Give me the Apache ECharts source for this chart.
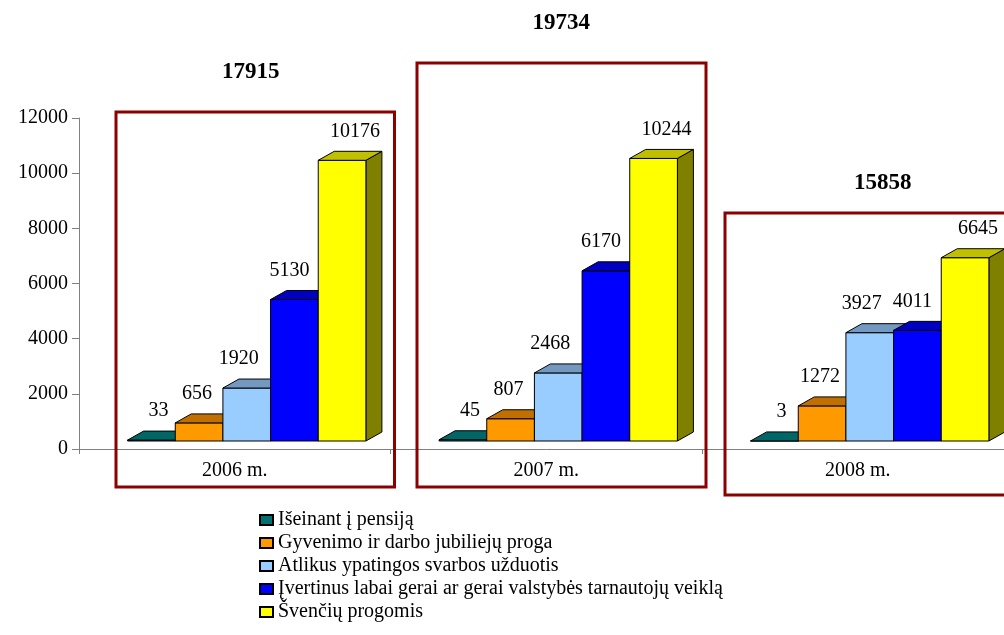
<!DOCTYPE html>
<html>
<head>
<meta charset="utf-8">
<script src="https://cdn.jsdelivr.net/npm/echarts@6.0.0/dist/echarts.min.js"></script>
<style>
    html, body { margin: 0; padding: 0; background: #fff; overflow: hidden; }
    /* the original chart runs a little past the right edge of the picture */
    #bar-chart { width: 1014px; height: 635px; }
</style>
</head>
<body>
<div id="bar-chart"></div>
<script>
const years = ['2006 m.', '2007 m.', '2008 m.'];
const seriesNames = [
    'Išeinant į pensiją',
    'Gyvenimo ir darbo jubiliejų proga',
    'Atlikus ypatingos svarbos užduotis',
    'Įvertinus labai gerai ar gerai valstybės tarnautojų veiklą',
    'Švenčių progomis'
];
const pensija = [33, 45, 3];
const jubiliejai = [656, 807, 1272];
const uzduotys = [1920, 2468, 3927];
const veikla = [5130, 6170, 4011];
const sventes = [10176, 10244, 6645];
const yTicks = [0, 2000, 4000, 6000, 8000, 10000, 12000];

const seriesValues = [pensija, jubiliejai, uzduotys, veikla, sventes];
const totals = years.map((y, i) => seriesValues.reduce((s, arr) => s + arr[i], 0));

const font = '"Liberation Serif", "Times New Roman", serif';
// front / top / side colours of the 3d columns
const colors = [
    { front: '#008080', top: '#006666', side: '#004040', legend: '#007070' },
    { front: '#ff9900', top: '#c07000', side: '#804c00', legend: '#ff9900' },
    { front: '#99ccff', top: '#7399c0', side: '#4d6680', legend: '#99ccff' },
    { front: '#0000ff', top: '#0000c0', side: '#000080', legend: '#0000ff' },
    { front: '#ffff00', top: '#c0c000', side: '#808000', legend: '#ffff00' }
];
const labelDx = [7, -2, -8, -5, 13];
const depthX = 16;
const depthY = -9;
const floorX = 12;
const floorY = -8;

// hand drawn frames around each year (pixel offsets from the band / zero line)
const frames = [
    { l: 37, r: 4, h: 337, b: 38, tx: 16, ty: -40 },
    { l: 26.5, r: 4, h: 386, b: 38, tx: 15, ty: -40 },
    { l: 23, r: 4, h: 236, b: 46, tx: 25, ty: -30 }
];

function barRenderer(idx) {
    return function (params, api) {
        const cat = api.value(0);
        const val = api.value(1);
        const base = api.coord([cat, 0]);
        const top = api.coord([cat, val]);
        const band = api.size([1, 0])[0];
        const w = band * 0.153;
        const x0 = base[0] + floorX + (idx - 2.5) * w;
        const yb = base[1] + floorY;
        const yt = top[1] + floorY;
        const c = colors[idx];
        const line = { stroke: '#000', lineWidth: 1 };
        return {
            type: 'group',
            children: [
                {
                    type: 'polygon',
                    shape: { points: [[x0 + w, yt], [x0 + w + depthX, yt + depthY], [x0 + w + depthX, yb + depthY], [x0 + w, yb]] },
                    style: Object.assign({ fill: c.side }, line)
                },
                {
                    type: 'rect',
                    shape: { x: x0, y: yt, width: w, height: yb - yt },
                    style: Object.assign({ fill: c.front }, line)
                },
                {
                    type: 'polygon',
                    shape: { points: [[x0, yt], [x0 + w, yt], [x0 + w + depthX, yt + depthY], [x0 + depthX, yt + depthY]] },
                    style: Object.assign({ fill: c.top }, line)
                },
                {
                    type: 'text',
                    style: {
                        text: String(val),
                        x: x0 + w / 2 + labelDx[idx],
                        y: yt + depthY - 20,
                        align: 'center',
                        verticalAlign: 'middle',
                        fill: '#000',
                        font: '20px ' + font
                    }
                }
            ]
        };
    };
}

function frameRenderer(params, api) {
    const cat = api.value(0);
    const base = api.coord([cat, 0]);
    const band = api.size([1, 0])[0];
    const f = frames[cat];
    const left = base[0] - band / 2 + f.l;
    const right = base[0] + band / 2 + f.r;
    const top = base[1] - f.h;
    const bottom = base[1] + f.b;
    return {
        type: 'group',
        children: [
            {
                type: 'rect',
                shape: { x: left, y: top, width: right - left, height: bottom - top },
                style: { fill: 'none', stroke: '#8b0000', lineWidth: 3 }
            },
            {
                type: 'text',
                style: {
                    text: String(api.value(1)),
                    x: base[0] + f.tx,
                    y: top + f.ty,
                    align: 'center',
                    verticalAlign: 'middle',
                    fill: '#000',
                    font: 'bold 23px ' + font
                }
            }
        ]
    };
}

const echart = echarts.init(document.getElementById('bar-chart'));

const series = seriesValues.map((arr, i) => ({
    name: seriesNames[i],
    type: 'custom',
    renderItem: barRenderer(i),
    itemStyle: { color: colors[i].legend, borderColor: '#000', borderWidth: 1 },
    encode: { x: 0, y: 1 },
    data: arr.map((v, k) => [k, v]),
    z: 3
}));
series.push({
    name: 'frames',
    type: 'custom',
    renderItem: frameRenderer,
    encode: { x: 0, y: 1 },
    data: totals.map((t, k) => [k, t]),
    silent: true,
    z: 5
});

const option = {
    backgroundColor: '#fff',
    animation: false,
    textStyle: { fontFamily: font },
    grid: { left: 79, right: 0.5, top: 118, bottom: 186, containLabel: false },
    legend: {
        orient: 'vertical',
        left: 254,
        top: 505,
        icon: 'rect',
        itemWidth: 13,
        itemHeight: 10,
        itemGap: 3,
        data: seriesNames,
        textStyle: { fontFamily: font, fontSize: 20, color: '#000', lineHeight: 20 }
    },
    xAxis: {
        type: 'category',
        data: years,
        axisLine: { lineStyle: { color: '#808080', width: 1 } },
        axisTick: { show: true, length: 5, lineStyle: { color: '#808080' } },
        axisLabel: { color: '#000', fontSize: 20, fontFamily: font, margin: 12 },
        splitLine: { show: false }
    },
    yAxis: {
        type: 'value',
        min: yTicks[0],
        max: yTicks[yTicks.length - 1],
        interval: yTicks[1] - yTicks[0],
        axisLine: { show: true, lineStyle: { color: '#808080', width: 1 } },
        axisTick: { show: true, length: 7, lineStyle: { color: '#808080' } },
        axisLabel: {
            color: '#000',
            fontSize: 20,
            fontFamily: font,
            margin: 11,
            formatter: (v) => String(v)
        },
        splitLine: { show: false }
    },
    series
};

echart.setOption(option);
window.addEventListener('resize', () => echart.resize());
</script>
</body>
</html>
